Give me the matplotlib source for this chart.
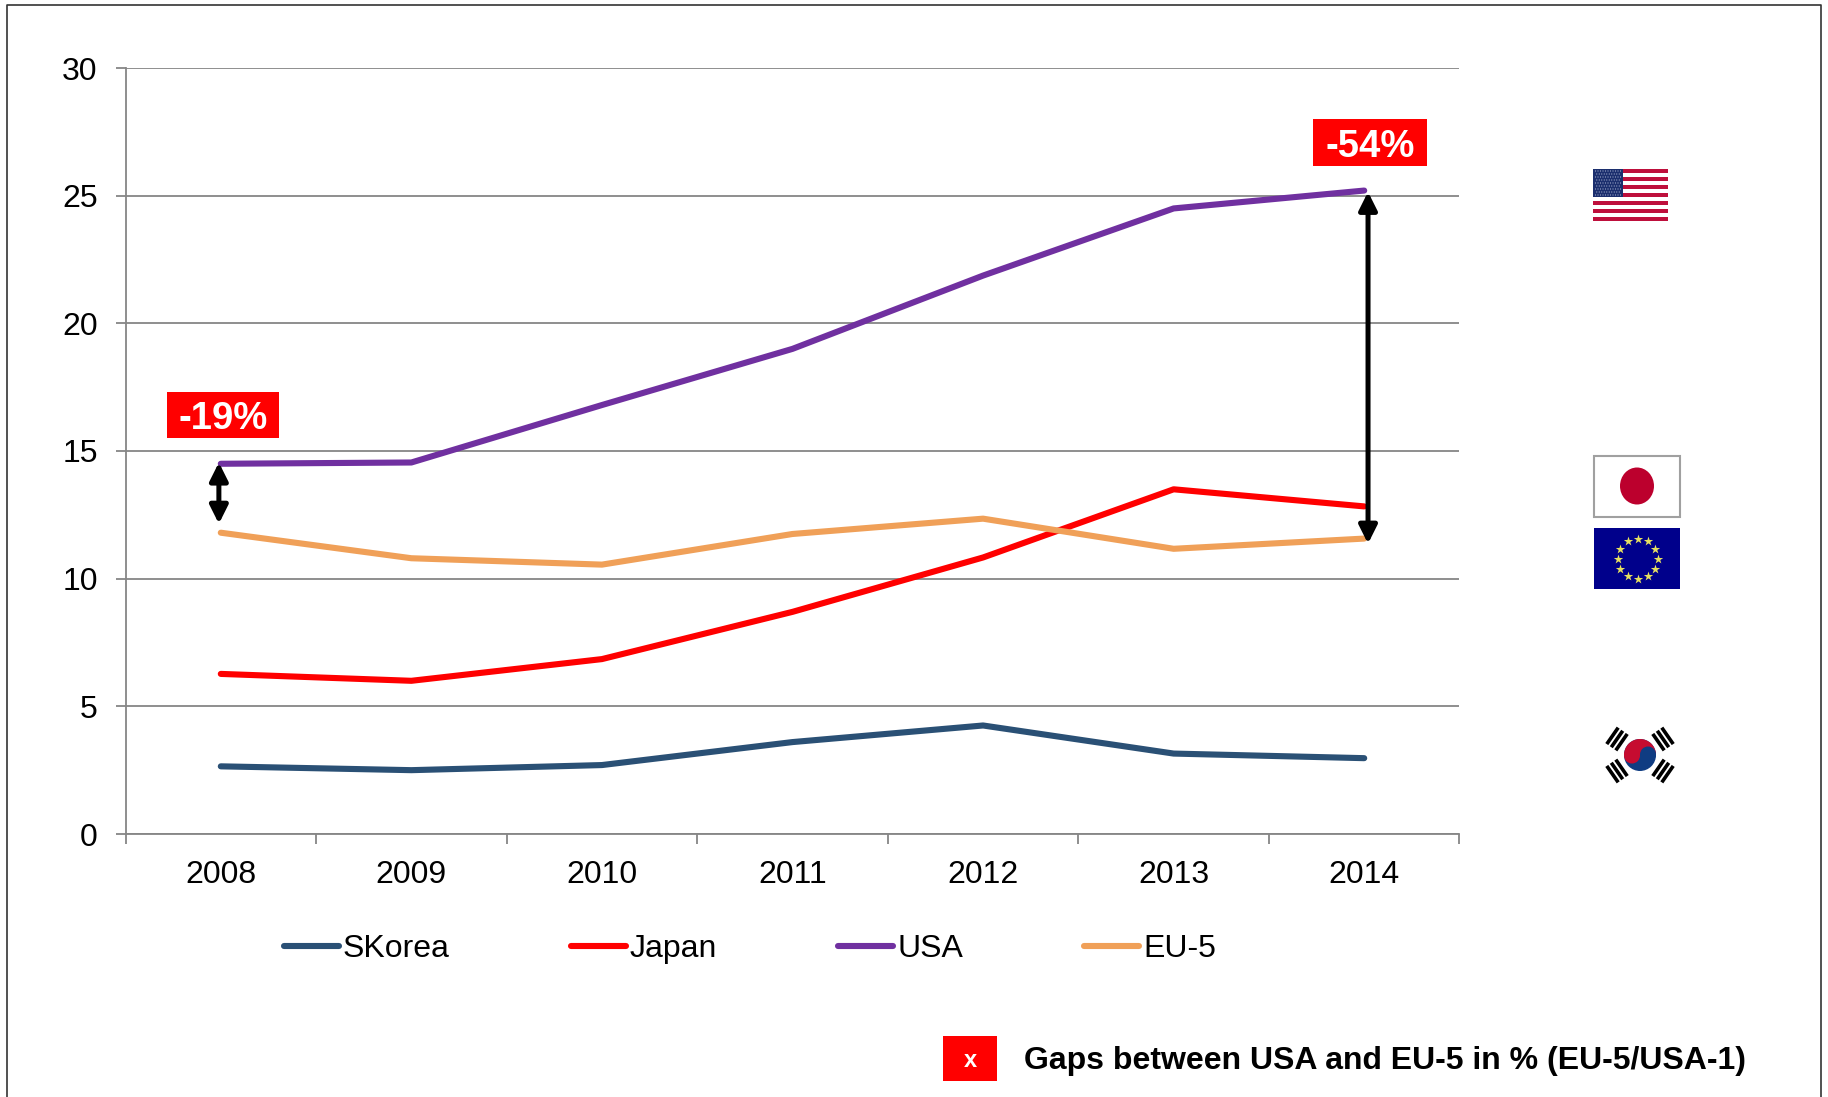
import numpy as np
import matplotlib
matplotlib.use('Agg')
import matplotlib.pyplot as plt
from matplotlib.patches import Rectangle, Circle, Ellipse, Wedge

plt.rcParams['font.family'] = ['Liberation Sans', 'DejaVu Sans']

years = ['2008', '2009', '2010', '2011', '2012', '2013', '2014']
skorea = [2.65, 2.5, 2.7, 3.6, 4.25, 3.15, 2.97]
japan = [6.27, 6.0, 6.85, 8.7, 10.83, 13.5, 12.83]
usa = [14.5, 14.55, 16.8, 19.0, 21.87, 24.5, 25.2]
eu5 = [11.8, 10.8, 10.55, 11.75, 12.35, 11.17, 11.57]
y_ticks = [0, 5, 10, 15, 20, 25, 30]
gap_labels = ['-19%', '-54%']
note = 'Gaps between USA and EU-5 in % (EU-5/USA-1)'

W, H = 1828, 1097
GRAY = '#868686'
fig = plt.figure(figsize=(W / 100, H / 100), dpi=100)

# plot area placed by pixels so it lines up with the reference
left, right, top, bottom = 125.5, 1459.5, 68, 834
ax = fig.add_axes([left / W, 1 - bottom / H, (right - left) / W, (bottom - top) / H])

x = np.arange(len(years))
for vals, col, name in [(skorea, '#2A5075', 'SKorea'), (japan, '#FF0000', 'Japan'),
                        (usa, '#7030A0', 'USA'), (eu5, '#F0A058', 'EU-5')]:
    ax.plot(x, vals, color=col, lw=4.4, label=name, solid_capstyle='round', solid_joinstyle='round', zorder=3)

ax.set_xlim(-0.5, 6.5)
ax.set_ylim(0, 30)
ax.set_yticks(y_ticks)
ax.set_xticks(x)
ax.set_xticklabels(years)
ax.set_xticks(np.arange(-0.5, 7, 1), minor=True)
ax.grid(axis='y', color=GRAY, lw=1.3)
ax.set_axisbelow(True)
for s in ['top', 'right']:
    ax.spines[s].set_visible(False)
for s in ['left', 'bottom']:
    ax.spines[s].set_color(GRAY)
    ax.spines[s].set_linewidth(1.3)
ax.tick_params(axis='x', which='major', length=0, labelsize=23, pad=18.5)
ax.tick_params(axis='x', which='minor', length=7, width=1.3, color=GRAY)
ax.tick_params(axis='y', length=7, width=1.3, color=GRAY, labelsize=23, pad=13)

# gap arrows
arrow = dict(arrowstyle='<|-|>,head_width=0.3,head_length=0.6', color='black', lw=3.6,
             shrinkA=0, shrinkB=0, mutation_scale=18)
ax.annotate('', xy=(-0.01, usa[0] + 0.05), xytext=(-0.01, 12.15), arrowprops=arrow, zorder=5)
ax.annotate('', xy=(6.02, usa[6] - 0.05), xytext=(6.02, eu5[6] - 0.2), arrowprops=arrow, zorder=5)

leg = ax.legend(loc='center', bbox_to_anchor=((750 - left) / (right - left), (bottom - 949) / (bottom - top)),
                ncol=4, frameon=False, fontsize=23, handlelength=1.72, handletextpad=0.12,
                columnspacing=3.8, borderpad=0, borderaxespad=0)
for line in leg.get_lines():
    line.set_linewidth(4.4)

# pixel overlay for frame, flags and labels
ov = fig.add_axes([0, 0, 1, 1], facecolor='none')
ov.set_xlim(0, W)
ov.set_ylim(H, 0)
ov.axis('off')

ov.plot([6.5, 6.5, 1821, 1821], [H, 5, 5, H], color='#333333', lw=1.2)

# red boxes
ov.add_patch(Rectangle((167, 392), 112, 46, color='#FF0000', lw=0))
ov.text(223, 415, gap_labels[0], color='white', fontsize=27.5, fontweight='bold', ha='center', va='center_baseline')
ov.add_patch(Rectangle((1313, 119), 114, 47, color='#FF0000', lw=0))
ov.text(1370, 143, gap_labels[1], color='white', fontsize=27.5, fontweight='bold', ha='center', va='center_baseline')
ov.add_patch(Rectangle((943, 1036), 54, 45, color='#FF0000', lw=0))
ov.text(970, 1058, 'x', color='white', fontsize=17, fontweight='bold', ha='center', va='center_baseline')
ov.text(1024, 1058, note, color='black', fontsize=23, fontweight='bold', ha='left', va='center_baseline')

# USA flag
fx0, fx1, fy0, fy1 = 1593, 1668, 169, 221
ov.add_patch(Rectangle((fx0, fy0), fx1 - fx0, fy1 - fy0, color='white', lw=0))
sh = (fy1 - fy0) / 13
for i in range(0, 13, 2):
    ov.add_patch(Rectangle((fx0, fy0 + i * sh), fx1 - fx0, sh, color='#BE0F3C', lw=0))
ov.add_patch(Rectangle((fx0, fy0), 30, 28, color='#1C2F6E', lw=0))
for r in range(9):
    for c in range(11 if r % 2 == 0 else 10):
        ov.add_patch(Circle((fx0 + 2.5 + c * 2.5 + (0 if r % 2 == 0 else 1.25), fy0 + 2 + r * 3), 0.55, color='#B8C2DC', lw=0))

# Japan flag
ov.add_patch(Rectangle((1594, 455.5), 86, 61, facecolor='white', edgecolor='#A0A0A0', lw=1.5))
ov.add_patch(Ellipse((1637, 486), 34, 37, color='#BC002D', lw=0))

# EU flag
ov.add_patch(Rectangle((1594, 528), 86, 61, color='#00008B', lw=0))
ang = np.deg2rad(np.arange(0, 360, 30))
ov.scatter(1637.5 + 20 * np.cos(ang), 558.5 + 20 * np.sin(ang), marker='*', s=50, color='#E6E060', lw=0)

# Korea flag
kx, ky, kr = 1640, 755, 16
ov.add_patch(Circle((kx, ky), kr, color='#0F3C82', lw=0))
ov.add_patch(Wedge((kx, ky), kr, 177, 357, color='#C60C30', lw=0))
ov.add_patch(Circle((kx - kr / 2, ky + 0.5), kr / 2, color='#C60C30', lw=0))
ov.add_patch(Circle((kx + kr / 2, ky - 0.5), kr / 2, color='#0F3C82', lw=0))
for cx, cy in [(1617, 739), (1663, 739), (1617, 771), (1663, 771)]:
    d = np.array([kx - cx, ky - cy], dtype=float)
    d /= np.hypot(*d)
    p = np.array([-d[1], d[0]])
    for t in [-5.5, 0, 5.5]:
        a = np.array([cx, cy]) + d * t - p * 10
        b = np.array([cx, cy]) + d * t + p * 10
        ov.plot([a[0], b[0]], [a[1], b[1]], color='black', lw=2.6, solid_capstyle='butt')

fig.savefig('out.png', dpi=100, facecolor='white')
